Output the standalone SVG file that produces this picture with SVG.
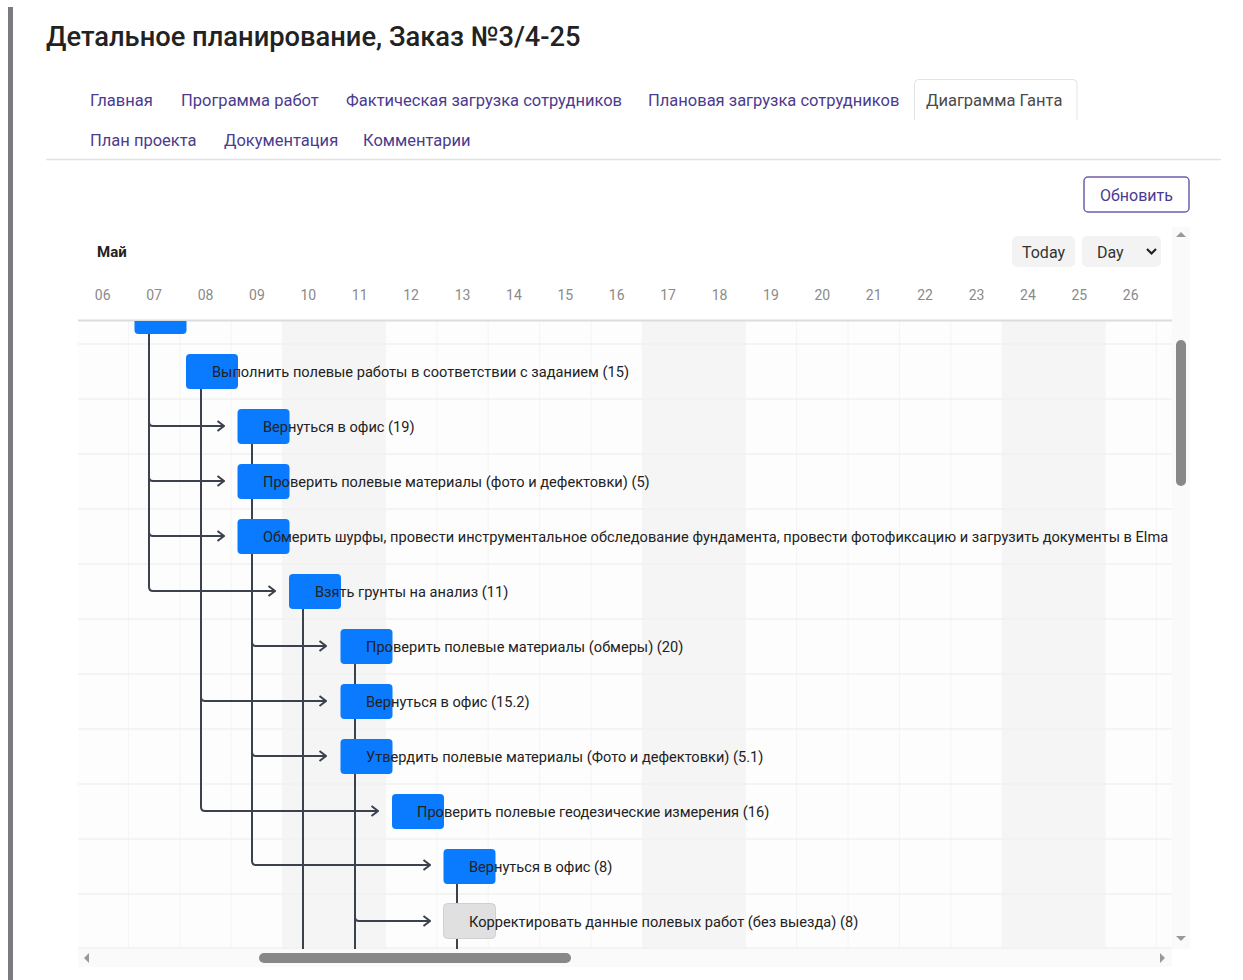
<svg xmlns="http://www.w3.org/2000/svg" width="1243" height="980" viewBox="0 0 1243 980">
<defs>
<style>
.tab{font-family:Roboto,"Liberation Sans",sans-serif;font-size:16.5px;fill:#4b3b8f}
.day{font-family:Roboto,"Liberation Sans",sans-serif;font-size:14px;fill:#8a8a8a;text-anchor:middle}
.lbl{font-family:Roboto,"Liberation Sans",sans-serif;font-size:14.6px;fill:#222}
.bar{fill:#0a7bff}
.barg{fill:#e0e0e0;stroke:#d0d0d0;stroke-width:1}
.c{fill:none;stroke:#3b414d;stroke-width:2}
.ca{fill:none;stroke:#3b414d;stroke-width:2;marker-end:url(#ah)}
.grid{stroke:#f0f0f0;stroke-width:1.5}
.vgrid{stroke:#f4f4f4;stroke-width:1}
.we{fill:#f5f5f6}
</style>
<clipPath id="chartclip"><rect x="78" y="321" width="1094" height="628"/></clipPath>
<marker id="ah" viewBox="0 0 9 12" refX="8" refY="6" markerWidth="9" markerHeight="12" markerUnits="userSpaceOnUse" orient="auto">
<path d="M1.5,1 L8,6 L1.5,11" fill="none" stroke="#3b414d" stroke-width="2"/>
</marker>
</defs>
<rect width="1243" height="980" fill="#ffffff"/>
<rect x="8" y="7" width="5" height="973" fill="#7a7a80"/>

<g id="header">
<text x="46" y="46" font-family="Roboto,'Liberation Sans',sans-serif" font-size="27.3" font-weight="500" fill="#222">Детальное планирование, Заказ №3/4-25</text>
<path d="M914.5,120 V83.5 Q914.5,79.5 918.5,79.5 H1073 Q1077,79.5 1077,83.5 V120" fill="#fff" stroke="#e3e3e3" stroke-width="1"/>
<text class="tab" x="90" y="106">Главная</text>
<text class="tab" x="181" y="106">Программа работ</text>
<text class="tab" x="346" y="106">Фактическая загрузка сотрудников</text>
<text class="tab" x="648" y="106">Плановая загрузка сотрудников</text>
<text class="tab" x="926" y="106" style="fill:#4a4a4a">Диаграмма Ганта</text>
<text class="tab" x="90" y="146">План проекта</text>
<text class="tab" x="224" y="146">Документация</text>
<text class="tab" x="363" y="146">Комментарии</text>
<line x1="46" y1="159.5" x2="1221" y2="159.5" stroke="#e2e2e2" stroke-width="1.5"/>
<rect x="1084" y="177" width="105" height="35" rx="4" fill="#fff" stroke="#6f5fad" stroke-width="1.5"/>
<text x="1136.5" y="200.5" text-anchor="middle" font-family="Roboto,'Liberation Sans',sans-serif" font-size="16" fill="#4b3b8f">Обновить</text>
</g>

<g id="chart-bg">
<rect x="78" y="321" width="1094" height="628" fill="#fdfdfd"/>
<rect class="we" x="282.6" y="321" width="102.8" height="628"/>
<rect class="we" x="642.4" y="321" width="102.8" height="628"/>
<rect class="we" x="1002.2" y="321" width="102.8" height="628"/>
<g class="vgrid">
<line x1="128.4" y1="321" x2="128.4" y2="949"/><line x1="179.8" y1="321" x2="179.8" y2="949"/>
<line x1="231.2" y1="321" x2="231.2" y2="949"/><line x1="282.6" y1="321" x2="282.6" y2="949"/>
<line x1="334" y1="321" x2="334" y2="949"/><line x1="385.4" y1="321" x2="385.4" y2="949"/>
<line x1="436.8" y1="321" x2="436.8" y2="949"/><line x1="488.2" y1="321" x2="488.2" y2="949"/>
<line x1="539.6" y1="321" x2="539.6" y2="949"/><line x1="591" y1="321" x2="591" y2="949"/>
<line x1="642.4" y1="321" x2="642.4" y2="949"/><line x1="693.8" y1="321" x2="693.8" y2="949"/>
<line x1="745.2" y1="321" x2="745.2" y2="949"/><line x1="796.6" y1="321" x2="796.6" y2="949"/>
<line x1="848" y1="321" x2="848" y2="949"/><line x1="899.4" y1="321" x2="899.4" y2="949"/>
<line x1="950.8" y1="321" x2="950.8" y2="949"/><line x1="1002.2" y1="321" x2="1002.2" y2="949"/>
<line x1="1053.6" y1="321" x2="1053.6" y2="949"/><line x1="1105" y1="321" x2="1105" y2="949"/>
<line x1="1156.4" y1="321" x2="1156.4" y2="949"/>
</g>
<g class="grid">
<line x1="78" y1="344" x2="1172" y2="344"/><line x1="78" y1="399" x2="1172" y2="399"/>
<line x1="78" y1="454" x2="1172" y2="454"/><line x1="78" y1="509" x2="1172" y2="509"/>
<line x1="78" y1="564" x2="1172" y2="564"/><line x1="78" y1="619" x2="1172" y2="619"/>
<line x1="78" y1="674" x2="1172" y2="674"/><line x1="78" y1="729" x2="1172" y2="729"/>
<line x1="78" y1="784" x2="1172" y2="784"/><line x1="78" y1="839" x2="1172" y2="839"/>
<line x1="78" y1="894" x2="1172" y2="894"/><line x1="78" y1="948" x2="1172" y2="948"/>
</g>
<line x1="78" y1="320.5" x2="1172" y2="320.5" stroke="#dcdcdc" stroke-width="2"/>
</g>

<g id="timeline-header">
<text x="97" y="257" font-family="Roboto,'Liberation Sans',sans-serif" font-size="15" font-weight="bold" fill="#222">Май</text>
<rect x="1012" y="236" width="63" height="31" rx="5" fill="#f3f3f3"/>
<text x="1043.5" y="257.5" text-anchor="middle" font-family="Roboto,'Liberation Sans',sans-serif" font-size="16" fill="#333">Today</text>
<rect x="1082" y="236" width="79" height="31" rx="5" fill="#f3f3f3"/>
<text x="1097" y="257.5" font-family="Roboto,'Liberation Sans',sans-serif" font-size="16" fill="#333">Day</text>
<path d="M1147,249 L1151.5,253.5 L1156,249" fill="none" stroke="#222" stroke-width="2.2"/>
<text class="day" x="102.7" y="300">06</text><text class="day" x="154.1" y="300">07</text>
<text class="day" x="205.5" y="300">08</text><text class="day" x="256.9" y="300">09</text>
<text class="day" x="308.3" y="300">10</text><text class="day" x="359.7" y="300">11</text>
<text class="day" x="411.1" y="300">12</text><text class="day" x="462.5" y="300">13</text>
<text class="day" x="513.9" y="300">14</text><text class="day" x="565.3" y="300">15</text>
<text class="day" x="616.7" y="300">16</text><text class="day" x="668.1" y="300">17</text>
<text class="day" x="719.5" y="300">18</text><text class="day" x="770.9" y="300">19</text>
<text class="day" x="822.3" y="300">20</text><text class="day" x="873.7" y="300">21</text>
<text class="day" x="925.1" y="300">22</text><text class="day" x="976.5" y="300">23</text>
<text class="day" x="1027.9" y="300">24</text><text class="day" x="1079.3" y="300">25</text>
<text class="day" x="1130.7" y="300">26</text>
</g>

<g id="connectors">
<path class="ca" d="M149,334 V422 Q149,426 153,426 H224"/>
<path class="ca" d="M149,334 V477 Q149,481 153,481 H224"/>
<path class="ca" d="M149,334 V532 Q149,536 153,536 H224"/>
<path class="ca" d="M149,334 V587 Q149,591 153,591 H275"/>
<path class="ca" d="M201,389 V697 Q201,701 205,701 H326"/>
<path class="ca" d="M201,389 V807 Q201,811 205,811 H378"/>
<path class="c" d="M252,443 V464"/>
<path class="c" d="M252,498 V519"/>
<path class="ca" d="M252,553 V642 Q252,646 256,646 H326"/>
<path class="ca" d="M252,553 V752 Q252,756 256,756 H326"/>
<path class="ca" d="M252,553 V861 Q252,865 256,865 H430"/>
<path class="c" d="M303,608 V949"/>
<path class="c" d="M355,663 V684"/>
<path class="c" d="M355,718 V739"/>
<path class="c" d="M355,773 V949"/>
<path class="ca" d="M355,773 V917 Q355,921 359,921 H430"/>
<path class="c" d="M457,883 V904"/>
<path class="c" d="M457,938 V949"/>
</g>

<g id="task-0" clip-path="url(#chartclip)"><rect class="bar" x="134.5" y="299" width="52" height="35" rx="4"/></g>
<g id="task-1"><rect class="bar" x="186" y="354" width="52" height="35" rx="4"/><text class="lbl" x="212" y="376.5">Выполнить полевые работы в соответствии с заданием (15)</text></g>
<g id="task-2"><rect class="bar" x="237.5" y="409" width="52" height="35" rx="4"/><text class="lbl" x="263" y="431.5">Вернуться в офис (19)</text></g>
<g id="task-3"><rect class="bar" x="237.5" y="464" width="52" height="35" rx="4"/><text class="lbl" x="263" y="486.5">Проверить полевые материалы (фото и дефектовки) (5)</text></g>
<g id="task-4" clip-path="url(#chartclip)"><rect class="bar" x="237.5" y="519" width="52" height="35" rx="4"/><text class="lbl" x="263" y="541.5">Обмерить шурфы, провести инструментальное обследование фундамента, провести фотофиксацию и загрузить документы в Elma</text></g>
<g id="task-5"><rect class="bar" x="289" y="574" width="52" height="35" rx="4"/><text class="lbl" x="315" y="596.5">Взять грунты на анализ (11)</text></g>
<g id="task-6"><rect class="bar" x="340.5" y="629" width="52" height="35" rx="4"/><text class="lbl" x="366" y="651.5">Проверить полевые материалы (обмеры) (20)</text></g>
<g id="task-7"><rect class="bar" x="340.5" y="684" width="52" height="35" rx="4"/><text class="lbl" x="366" y="706.5">Вернуться в офис (15.2)</text></g>
<g id="task-8"><rect class="bar" x="340.5" y="739" width="52" height="35" rx="4"/><text class="lbl" x="366" y="761.5">Утвердить полевые материалы (Фото и дефектовки) (5.1)</text></g>
<g id="task-9"><rect class="bar" x="392" y="794" width="52" height="35" rx="4"/><text class="lbl" x="417" y="816.5">Проверить полевые геодезические измерения (16)</text></g>
<g id="task-10"><rect class="bar" x="443.5" y="849" width="52" height="35" rx="4"/><text class="lbl" x="469" y="871.5">Вернуться в офис (8)</text></g>
<g id="task-11"><rect class="barg" x="443.5" y="903.5" width="52" height="35" rx="4"/><text class="lbl" x="469" y="926.5">Корректировать данные полевых работ (без выезда) (8)</text></g>

<g id="scrollbars">
<rect x="1172" y="227" width="18" height="722" fill="#fafafa"/>
<path d="M1176,237 L1181,232 L1186,237 Z" fill="#999"/>
<path d="M1176,936 L1181,941 L1186,936 Z" fill="#999"/>
<rect x="1176" y="340" width="10" height="146" rx="5" fill="#888"/>
<rect x="78" y="949" width="1094" height="18" fill="#fafafa"/>
<path d="M89,953 L84,958 L89,963 Z" fill="#999"/>
<path d="M1160,953 L1165,958 L1160,963 Z" fill="#999"/>
<rect x="259" y="953" width="312" height="10" rx="5" fill="#888"/>
</g>
</svg>
